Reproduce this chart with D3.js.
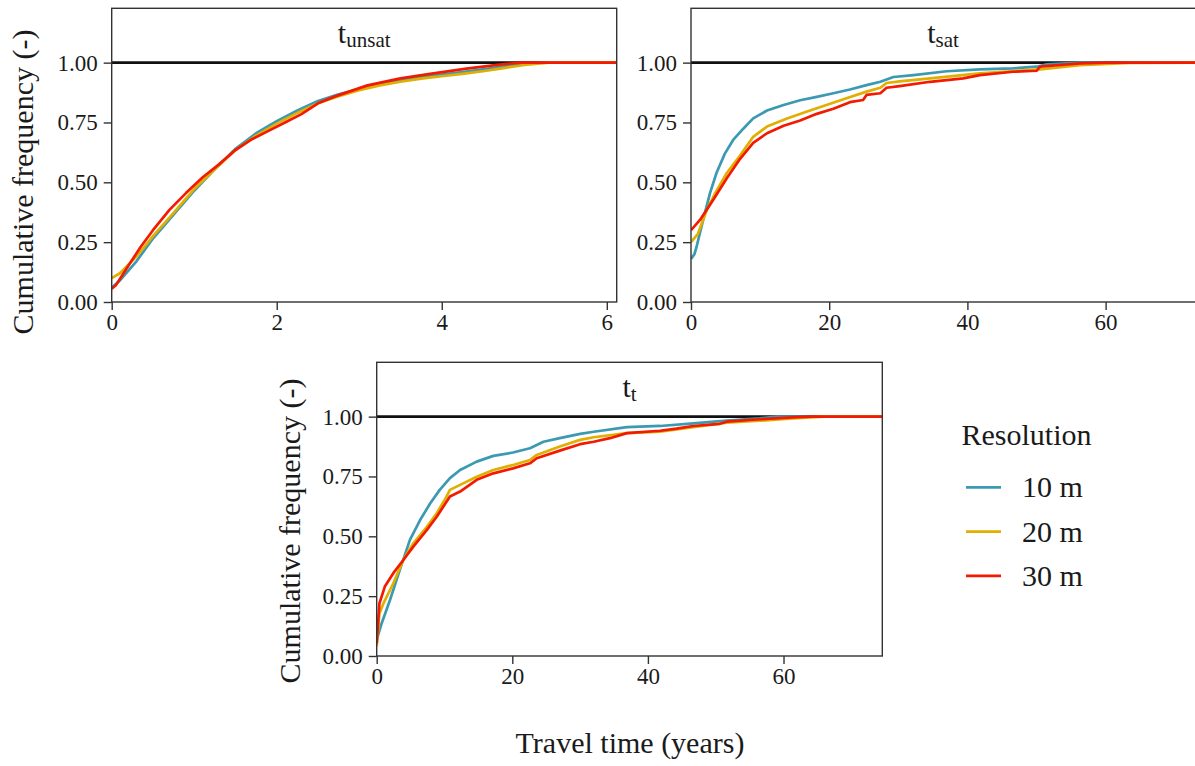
<!DOCTYPE html>
<html>
<head>
<meta charset="utf-8">
<script src="https://cdn.jsdelivr.net/npm/d3@7"></script>
<style>
  html, body { margin: 0; padding: 0; background: #fff; }
  svg { display: block; }
  svg text { font-family: "Liberation Serif", "Times New Roman", serif !important; }
</style>
</head>
<body>
<svg id="chart" width="1195" height="766"></svg>
<script>
// ---------- DATA ----------
const resolutions = ["10 m", "20 m", "30 m"];
const colors = ["#3B9AB2", "#E1AF00", "#F21A00"];
const yTicks = [0, 0.25, 0.5, 0.75, 1.0];
const xTicksUnsat = [0, 2, 4, 6];
const xTicksYears = [0, 20, 40, 60];
const panelTitles = [["t", "unsat"], ["t", "sat"], ["t", "t"]];

// t_unsat  [travel time (years), cumulative frequency]
const unsat10 = [[0,0.06],[0.1,0.09],[0.3,0.17],[0.5,0.265],[0.75,0.365],[1.0,0.465],[1.25,0.555],[1.5,0.64],[1.75,0.705],[2.0,0.755],[2.25,0.80],[2.5,0.84],[2.75,0.868],[3.0,0.89],[3.25,0.91],[3.5,0.925],[3.75,0.94],[4.0,0.95],[4.25,0.96],[4.5,0.972],[4.75,0.985],[5.0,0.995],[5.2,1.0],[6.2,1.0]];
const unsat20 = [[0,0.10],[0.1,0.12],[0.3,0.19],[0.5,0.275],[0.75,0.372],[1.0,0.472],[1.25,0.555],[1.5,0.635],[1.75,0.695],[2.0,0.745],[2.25,0.79],[2.5,0.83],[2.75,0.86],[3.0,0.885],[3.25,0.905],[3.5,0.92],[3.75,0.933],[4.0,0.943],[4.25,0.953],[4.5,0.964],[4.75,0.977],[5.0,0.99],[5.3,1.0],[6.2,1.0]];
const unsat30 = [[0,0.055],[0.05,0.07],[0.2,0.15],[0.35,0.23],[0.5,0.30],[0.7,0.385],[0.9,0.455],[1.1,0.52],[1.3,0.575],[1.5,0.635],[1.7,0.68],[1.9,0.715],[2.1,0.75],[2.3,0.785],[2.5,0.83],[2.7,0.858],[3.1,0.905],[3.5,0.934],[3.9,0.955],[4.3,0.975],[4.7,0.992],[4.95,1.0],[6.2,1.0]];

// t_sat
const sat10 = [[0,0.18],[0.5,0.20],[0.8,0.23],[1.3,0.29],[2.0,0.37],[2.75,0.455],[3.7,0.54],[4.9,0.62],[6.1,0.677],[7.6,0.725],[9.0,0.767],[11.0,0.80],[13.4,0.823],[15.8,0.843],[18.2,0.857],[20.6,0.872],[23.0,0.888],[25.4,0.906],[27.4,0.92],[29.3,0.94],[32.2,0.948],[37.0,0.964],[41.8,0.972],[46.6,0.976],[50.0,0.983],[51.5,0.993],[56.3,1.0],[74,1.0]];
const sat20 = [[0,0.25],[1.0,0.285],[2.3,0.385],[3.5,0.455],[5.2,0.54],[7.1,0.612],[9.0,0.69],[11.0,0.733],[13.9,0.767],[16.7,0.795],[19.6,0.823],[22.5,0.851],[25.4,0.879],[27.4,0.895],[28.3,0.915],[30.2,0.922],[34.6,0.934],[41.8,0.955],[50.5,0.972],[56.3,0.989],[63.5,0.999],[74,1.0]];
const sat30 = [[0,0.30],[1.3,0.343],[3.2,0.426],[5.2,0.518],[7.1,0.598],[9.0,0.665],[11.0,0.705],[13.4,0.736],[15.8,0.758],[18.2,0.786],[20.6,0.807],[23.0,0.835],[24.9,0.844],[25.4,0.865],[27.4,0.872],[28.3,0.895],[30.2,0.902],[34.6,0.92],[39.4,0.934],[41.8,0.948],[46.6,0.962],[50.0,0.966],[50.5,0.983],[56.3,0.997],[60,1.0],[74,1.0]];

// t_t
const tt10 = [[0,0.067],[0.74,0.137],[1.96,0.234],[3.4,0.359],[4.9,0.485],[6.4,0.568],[7.9,0.638],[9.3,0.694],[10.8,0.743],[12.3,0.777],[14.75,0.812],[17.2,0.836],[20.1,0.85],[22.6,0.868],[24.6,0.895],[27.0,0.91],[30.0,0.928],[32.0,0.937],[36.9,0.956],[41.8,0.961],[46.7,0.972],[51.6,0.983],[56.5,0.993],[59,1.0],[75,1.0]];
const tt20 = [[0,0.04],[0.4,0.178],[1.0,0.22],[2.45,0.304],[3.9,0.40],[5.4,0.471],[7.4,0.54],[8.85,0.596],[10.3,0.666],[10.8,0.694],[12.3,0.715],[14.75,0.749],[17.2,0.777],[20.1,0.798],[22.6,0.819],[23.6,0.84],[27.0,0.875],[30.0,0.903],[32.0,0.914],[36.9,0.931],[41.8,0.937],[46.7,0.956],[51.6,0.975],[56.5,0.983],[61.4,0.993],[66,1.0],[75,1.0]];
const tt30 = [[0,0.053],[0.4,0.22],[1.2,0.29],[2.45,0.346],[3.9,0.40],[5.4,0.457],[7.4,0.527],[8.85,0.582],[10.8,0.666],[12.3,0.687],[14.75,0.736],[17.2,0.763],[20.1,0.784],[22.6,0.805],[23.6,0.826],[27.0,0.858],[30.0,0.885],[32.0,0.895],[34.4,0.91],[36.9,0.931],[41.8,0.941],[44.2,0.95],[46.7,0.961],[50.6,0.97],[51.6,0.979],[56.5,0.989],[61.4,0.997],[64,1.0],[75,1.0]];

// ---------- LAYOUT ----------
const svg = d3.select("#chart");
const FONT = "'Liberation Serif', 'Times New Roman', serif";

const panels = [
  { left: 111.7, right: 616.7, top: 8.3, bottom: 302, xmax: 6.12, ticks: xTicksUnsat, series: [unsat10, unsat20, unsat30], title: panelTitles[0], ylab: { x: 33, y: 182 } },
  { left: 691, right: 1196, top: 8.3, bottom: 302, xmax: 73.08, ticks: xTicksYears, series: [sat10, sat20, sat30], title: panelTitles[1], ylab: null },
  { left: 376.7, right: 882.3, top: 362.3, bottom: 656, xmax: 74.57, ticks: xTicksYears, series: [tt10, tt20, tt30], title: panelTitles[2], ylab: { x: 300, y: 531 } }
];

panels.forEach((p, i) => {
  const x = d3.scaleLinear().domain([0, p.xmax]).range([p.left, p.right]);
  const y = d3.scaleLinear().domain([0, 1.227]).range([p.bottom, p.top]);
  const g = svg.append("g");

  const clipId = "clip" + i;
  svg.append("clipPath").attr("id", clipId).append("rect")
    .attr("x", p.left).attr("y", p.top).attr("width", p.right - p.left).attr("height", p.bottom - p.top);

  const plot = g.append("g").attr("clip-path", `url(#${clipId})`);
  plot.append("line")
    .attr("x1", p.left).attr("x2", p.right)
    .attr("y1", y(1)).attr("y2", y(1))
    .attr("stroke", "#111").attr("stroke-width", 2.6);

  const line = d3.line().x(d => x(d[0])).y(d => y(d[1]));
  p.series.forEach((s, k) => {
    plot.append("path").datum(s)
      .attr("d", line)
      .attr("fill", "none")
      .attr("stroke", colors[k])
      .attr("stroke-width", 2.7)
      .attr("stroke-linejoin", "round");
  });

  g.append("rect")
    .attr("x", p.left).attr("y", p.top)
    .attr("width", p.right - p.left).attr("height", p.bottom - p.top)
    .attr("fill", "none").attr("stroke", "#333").attr("stroke-width", 1.4);

  const ya = g.append("g").attr("transform", `translate(${p.left},0)`)
    .call(d3.axisLeft(y).tickValues(yTicks).tickFormat(d3.format(".2f")).tickSize(8).tickPadding(6));
  ya.attr("font-family", null).attr("font-size", null);
  ya.select(".domain").remove();
  ya.selectAll(".tick line").attr("stroke", "#333").attr("stroke-width", 1.4);
  ya.selectAll(".tick text").style("font-family", FONT).style("font-size", "23px").attr("fill", "#1a1a1a");

  const xa = g.append("g").attr("transform", `translate(0,${p.bottom})`)
    .call(d3.axisBottom(x).tickValues(p.ticks).tickFormat(d3.format("d")).tickSize(8).tickPadding(4));
  xa.attr("font-family", null).attr("font-size", null);
  xa.select(".domain").remove();
  xa.selectAll(".tick line").attr("stroke", "#333").attr("stroke-width", 1.4);
  xa.selectAll(".tick text").style("font-family", FONT).style("font-size", "23px").attr("fill", "#1a1a1a");

  const t = g.append("text")
    .attr("x", (p.left + Math.min(p.right, 1195)) / 2)
    .attr("y", y(1) - 19.5)
    .attr("text-anchor", "middle")
    .style("font-family", FONT).attr("fill", "#1a1a1a");
  t.append("tspan").style("font-size", "30px").text(p.title[0]);
  t.append("tspan").style("font-size", "21px").attr("dy", 4).text(p.title[1]);

  if (p.ylab) {
    g.append("text")
      .attr("transform", `translate(${p.ylab.x},${p.ylab.y}) rotate(-90)`)
      .attr("text-anchor", "middle")
      .style("font-family", FONT).style("font-size", "30px").attr("fill", "#1a1a1a")
      .text("Cumulative frequency (-)");
  }
});

svg.append("text")
  .attr("x", 630).attr("y", 753)
  .attr("text-anchor", "middle")
  .style("font-family", FONT).style("font-size", "30px").attr("fill", "#1a1a1a")
  .text("Travel time (years)");

const legend = svg.append("g");
legend.append("text")
  .attr("x", 961.5).attr("y", 445)
  .style("font-family", FONT).style("font-size", "30px").attr("fill", "#1a1a1a")
  .text("Resolution");
resolutions.forEach((r, k) => {
  const ly = 487.3 + k * 44.3;
  legend.append("line")
    .attr("x1", 966).attr("x2", 1001).attr("y1", ly).attr("y2", ly)
    .attr("stroke", colors[k]).attr("stroke-width", 2.7);
  legend.append("text")
    .attr("x", 1022).attr("y", ly + 10)
    .style("font-family", FONT).style("font-size", "30px").attr("fill", "#1a1a1a")
    .text(r);
});
</script>
</body>
</html>
